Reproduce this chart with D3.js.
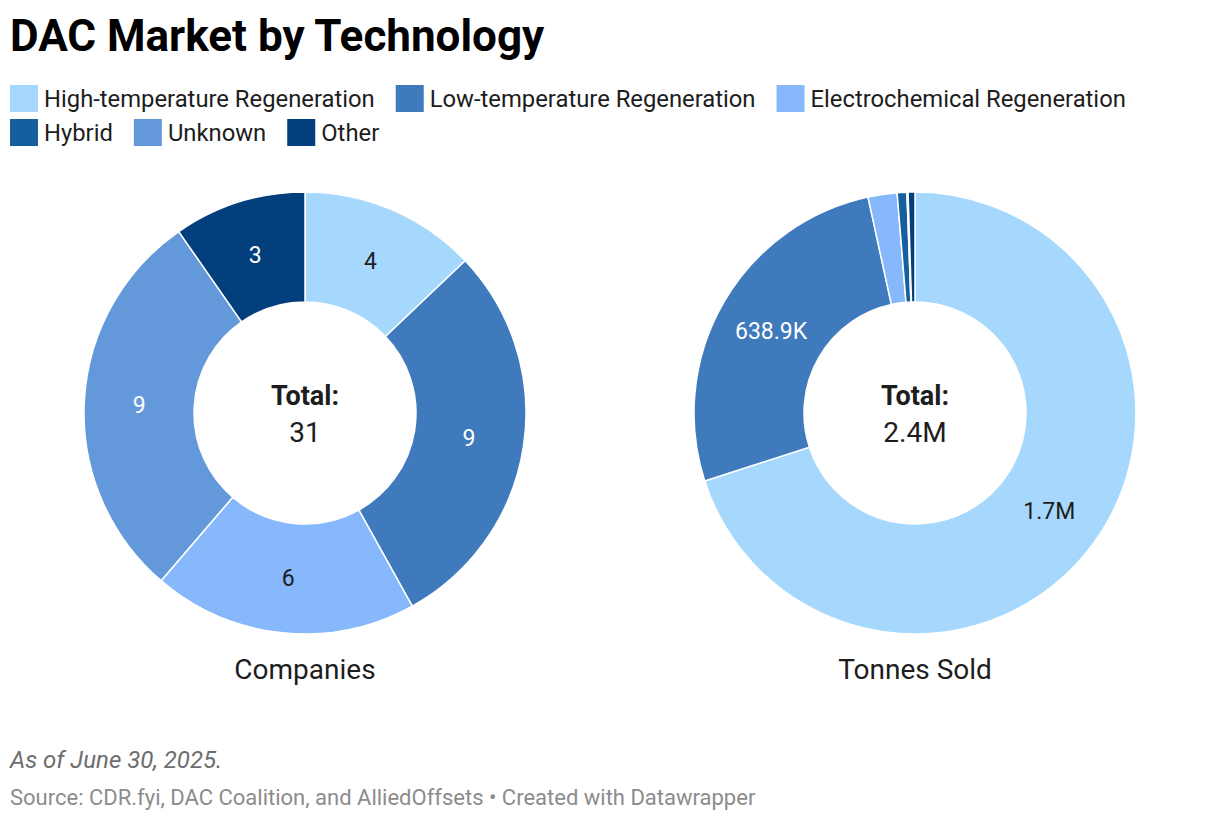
<!DOCTYPE html>
<html>
<head>
  <meta charset="utf-8">
  <script src="https://cdn.jsdelivr.net/npm/d3@7"></script>
  <style>
    body { margin: 0; background: #fff; font-family: Roboto, "Noto Sans", sans-serif; }
    svg text { font-family: Roboto, "Noto Sans", sans-serif; }
  </style>
</head>
<body>
<div id="chart"></div>
<script>
// technologies and colours
var technologies = ["High-temperature Regeneration", "Low-temperature Regeneration",
  "Electrochemical Regeneration", "Hybrid", "Unknown", "Other"];
var colors = ["#a6d8fe", "#3f7abd", "#86b8fb", "#155f9f", "#6399db", "#023f7c"];
// label colour on each slice
var labelColors = ["#1d1d1d", "#ffffff", "#1d1d1d", "#ffffff", "#ffffff", "#ffffff"];

// Companies (count) and Tonnes sold
var companies = [4, 9, 6, 0, 9, 3];
var tonnes = [1684000, 638900, 51000, 17000, 2000, 12000];

var charts = [
  { title: "Companies", values: companies, total: "31", cx: 305,
    fmt: function (v) { return String(v); } },
  { title: "Tonnes Sold", values: tonnes, total: "2.4M", cx: 915,
    fmt: function (v) { return v >= 1e6 ? d3.format(".1f")(v / 1e6) + "M" : d3.format(".1f")(v / 1e3) + "K"; } }
];

var W = 1220, H = 820;
var svg = d3.select("#chart").append("svg").attr("width", W).attr("height", H);

// title
svg.append("text")
  .attr("x", 10).attr("y", 51)
  .style("font-size", "44px").style("font-weight", "bold").style("fill", "#000")
  .text("DAC Market by Technology");

// legend, wraps at the width
var lx = 10, ly = 85, rowH = 34;
var legend = svg.append("g");
technologies.forEach(function (t, i) {
  var g = legend.append("g");
  var txt = g.append("text")
    .attr("x", 34).attr("y", 21.5)
    .style("font-size", "23.8px").style("fill", "#1d1d1d")
    .text(t);
  var w = 34 + txt.node().getComputedTextLength();
  if (lx + w > 1200) { lx = 10; ly += rowH; }
  g.attr("transform", "translate(" + lx + "," + ly + ")");
  g.insert("rect", "text").attr("width", 28).attr("height", 27).attr("fill", colors[i]);
  lx += w + 21;
});

var cy = 413, rOuter = 221, rInner = 111, rLabel = 166;
var pie = d3.pie().sort(null).value(function (d) { return d; });
var arc = d3.arc().innerRadius(rInner).outerRadius(rOuter);

charts.forEach(function (c) {
  var g = svg.append("g").attr("transform", "translate(" + c.cx + "," + cy + ")");
  var arcs = pie(c.values);
  g.selectAll("path").data(arcs).enter().append("path")
    .attr("d", arc)
    .attr("fill", function (d, i) { return colors[i]; })
    .attr("stroke", "#fff").attr("stroke-width", 1.5);

  // labels only on big enough slices
  g.selectAll("text.lab").data(arcs.filter(function (d) { return d.endAngle - d.startAngle > 0.3; }))
    .enter().append("text")
    .attr("class", "lab")
    .attr("x", function (d) { return rLabel * Math.sin((d.startAngle + d.endAngle) / 2); })
    .attr("y", function (d) { return -rLabel * Math.cos((d.startAngle + d.endAngle) / 2); })
    .attr("dy", "0.36em")
    .attr("text-anchor", "middle")
    .style("font-size", "23px")
    .style("fill", function (d) { return labelColors[d.index]; })
    .text(function (d) { return c.fmt(d.data); });

  g.append("text").attr("y", -8).attr("text-anchor", "middle")
    .style("font-size", "27px").style("font-weight", "bold").style("fill", "#1d1d1d")
    .text("Total:");
  g.append("text").attr("y", 29).attr("text-anchor", "middle")
    .style("font-size", "28px").style("fill", "#1d1d1d")
    .text(c.total);

  svg.append("text").attr("x", c.cx).attr("y", 679).attr("text-anchor", "middle")
    .style("font-size", "28px").style("fill", "#1d1d1d")
    .text(c.title);
});

// notes
svg.append("text").attr("x", 10).attr("y", 768)
  .style("font-size", "24px").style("font-style", "italic").style("fill", "#6d6d6d")
  .text("As of June 30, 2025.");
svg.append("text").attr("x", 10).attr("y", 805)
  .style("font-size", "22px").style("fill", "#8c8c8c")
  .text("Source: CDR.fyi, DAC Coalition, and AlliedOffsets \u2022 Created with Datawrapper");
</script>
</body>
</html>
